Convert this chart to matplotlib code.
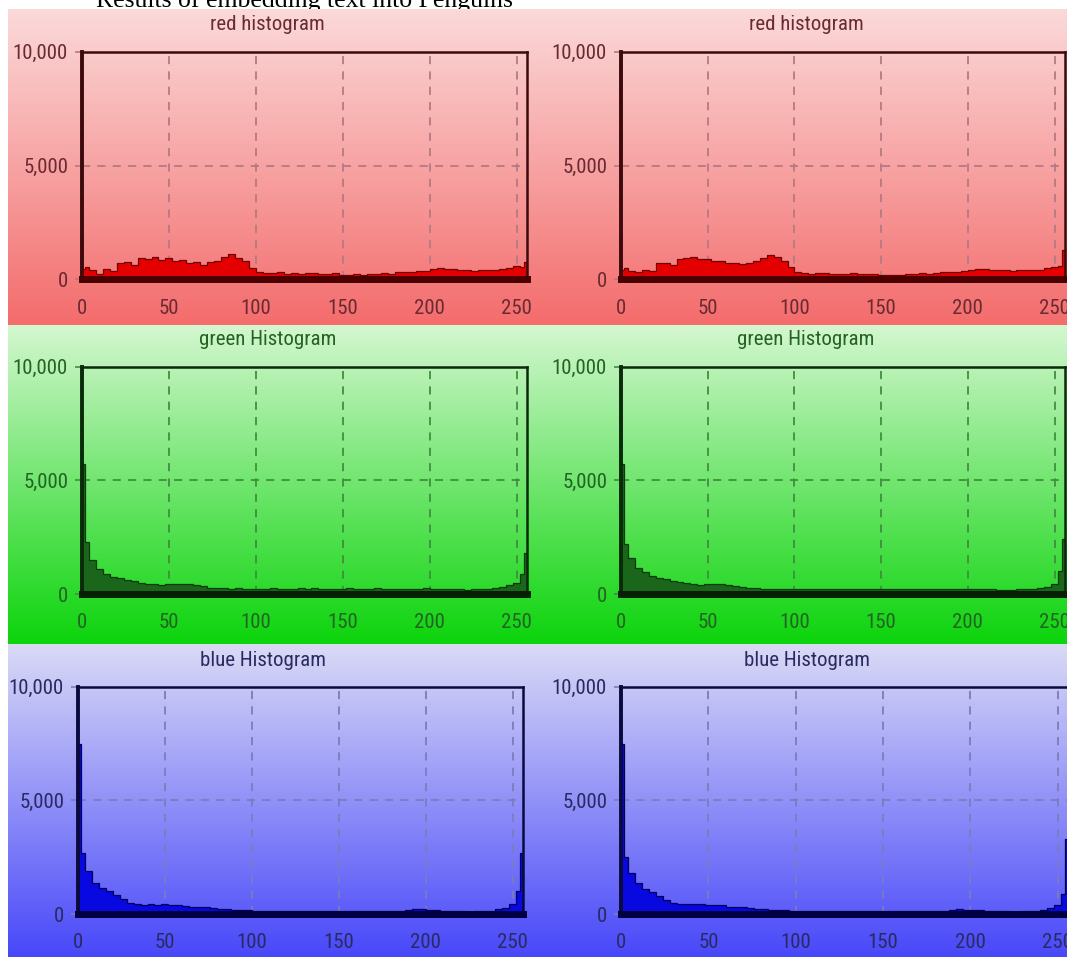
import numpy as np
import matplotlib
matplotlib.use("Agg")
import matplotlib.pyplot as plt
from matplotlib import font_manager as fm

# ---------------- data ----------------
# intensity-level bin edges (narrow bins at both ends)
bin_edges = [0, 2] + list(range(4, 253, 4)) + [254, 256]

red_left = [450, 550,
            400, 250, 450, 350, 700, 750, 650, 950, 900, 1000,
            850, 950, 800, 850, 700, 750, 650, 750, 800, 1000,
            1100, 950, 800, 500, 300, 280, 260, 300, 250, 270,
            240, 260, 280, 250, 230, 260, 200, 180, 220, 200,
            250, 230, 260, 250, 300, 320, 310, 350, 380, 450,
            480, 460, 450, 420, 400, 380, 400, 390, 420, 450,
            500, 600,
            550, 750]
red_right = [400, 500,
             380, 300, 420, 380, 720, 700, 650, 900, 950, 980,
             880, 900, 820, 800, 720, 700, 680, 720, 820, 950,
             1050, 980, 820, 550, 320, 270, 250, 280, 260, 250,
             230, 250, 260, 240, 220, 250, 200, 190, 210, 200,
             240, 250, 260, 240, 280, 300, 320, 330, 370, 430,
             460, 450, 430, 410, 390, 380, 390, 400, 410, 430,
             480, 550,
             600, 1300]
green_left = [5700, 2300,
              1500, 1100, 900, 750, 700, 620, 560, 500, 450, 420,
              400, 430, 440, 430, 420, 380, 330, 280, 260, 250,
              240, 250, 230, 240, 220, 230, 250, 240, 220, 230,
              260, 240, 250, 230, 220, 200, 230, 250, 240, 220,
              230, 250, 240, 220, 210, 230, 220, 240, 250, 230,
              220, 210, 230, 200, 190, 200, 210, 220, 250, 300,
              380, 500,
              900, 1800]
green_right = [5700, 2200,
               1600, 1150, 950, 800, 700, 640, 580, 520, 470, 430,
               410, 420, 430, 420, 400, 360, 320, 280, 260, 240,
               230, 240, 230, 220, 230, 220, 240, 230, 220, 210,
               230, 220, 240, 220, 210, 200, 220, 230, 220, 210,
               220, 230, 220, 210, 200, 220, 210, 220, 230, 220,
               210, 200, 210, 190, 180, 190, 200, 210, 230, 260,
               320, 450,
               1000, 2400]
blue_left = [7500, 2700,
             1900, 1350, 1150, 1000, 850, 650, 480, 420, 410, 420,
             410, 420, 410, 400, 330, 320, 300, 290, 260, 230,
             200, 180, 170, 160, 150, 140, 150, 140, 130, 140,
             130, 140, 130, 120, 130, 140, 130, 120, 130, 140,
             130, 140, 130, 150, 140, 150, 170, 220, 200, 180,
             170, 150, 140, 120, 110, 100, 110, 120, 150, 200,
             280, 450,
             1000, 2700]
blue_right = [7500, 2500,
              1800, 1350, 1100, 950, 800, 620, 470, 420, 420, 430,
              420, 410, 400, 380, 320, 310, 300, 280, 240, 210,
              190, 170, 160, 150, 150, 140, 140, 130, 130, 140,
              130, 130, 120, 130, 130, 140, 130, 120, 130, 130,
              130, 140, 130, 140, 140, 150, 160, 200, 190, 170,
              160, 150, 130, 120, 110, 100, 110, 120, 140, 180,
              250, 400,
              900, 3300]

titles = ["red histogram", "green Histogram", "blue Histogram"]
x_ticks = [0, 50, 100, 150, 200, 250]
x_tick_labels = ["0", "50", "100", "150", "200", "250"]
y_ticks = [0, 5000, 10000]
y_tick_labels = ["0", "5,000", "10,000"]
caption = "Results of embedding text into Penguins"

# ---------------- font choice (narrow face if one is installed) ----------------
names = {f.name for f in fm.fontManager.ttflist}
cond = [f for f in fm.fontManager.ttflist
        if f.name == "DejaVu Sans" and str(f.stretch) in ("condensed", "semi-condensed", "500")
        and f.weight in (400, "normal", "regular")]
font_kw = None
for nm in ["Liberation Sans Narrow", "Arial Narrow", "Roboto Condensed",
           "Open Sans Condensed", "Noto Sans Condensed"]:
    if nm in names:
        font_kw = dict(family=nm, size=15)
        break
if font_kw is None and any(str(f.stretch) == "condensed" for f in cond):
    font_kw = dict(family="DejaVu Sans", stretch="condensed", size=13.5)
if font_kw is None:
    font_kw = dict(family="Liberation Sans", size=13)

def fprop(scale=1.0):
    kw = dict(font_kw)
    kw["size"] = kw["size"] * scale
    return fm.FontProperties(**kw)

# ---------------- style ----------------
W, H = 1067, 957
fig = plt.figure(figsize=(W / 100, H / 100), dpi=100)
fig.patch.set_facecolor("white")

rows = [
    dict(bg=(9, 325), top=51.7, bot=279.3, title_y=25,
         grad=((251, 218, 218), (244, 108, 108)),
         fill="#e40000", edge="#6e0000", spine="#3c0a0c", base="#4a0000",
         grid="#b47a82", text="#6a2a32"),
    dict(bg=(325, 644), top=366.7, bot=594.0, title_y=340,
         grad=((212, 247, 208), (12, 212, 12)),
         fill="#1a661a", edge="#0a3a0a", spine="#0a2a0a", base="#062006",
         grid="#3f8f3f", text="#236323"),
    dict(bg=(644, 957), top=686.7, bot=914.0, title_y=660,
         grad=((218, 218, 246), (72, 72, 250)),
         fill="#0808e0", edge="#00005a", spine="#0a0a3e", base="#000040",
         grid="#7c7cbc", text="#2a2a62"),
]
cols_x = [[(82, 527), (621, 1065)],
          [(82, 527), (621, 1065)],
          [(78, 523), (621, 1068)]]
series = [[red_left, red_right], [green_left, green_right], [blue_left, blue_right]]


def rect(l, t, r, b):
    return [l / W, 1 - b / H, (r - l) / W, (b - t) / H]


# caption (partially cut off at top, like the reference)
fig.text(96 / W, 1 - 7 / H, caption, family=["Liberation Serif", "DejaVu Serif"],
         fontsize=18.5, ha="left", va="baseline", color="black", zorder=-5)

for ri, row in enumerate(rows):
    t0, b0 = row["bg"]
    bg = fig.add_axes(rect(8, t0, W, b0), zorder=0)
    c1 = np.array(row["grad"][0]) / 255.0
    c2 = np.array(row["grad"][1]) / 255.0
    s = np.linspace(0, 1, 256)[:, None, None]
    grad = c1[None, None, :] * (1 - s) + c2[None, None, :] * s
    bg.imshow(grad, aspect="auto", extent=[0, 1, 0, 1], interpolation="bilinear")
    bg.set_axis_off()

    for ci in range(2):
        l, r = cols_x[ri][ci]
        ax = fig.add_axes(rect(l, row["top"], r, row["bot"]), zorder=2)
        ax.set_facecolor("none")
        vals = series[ri][ci]
        ax.stairs(vals, bin_edges, fill=True, color=row["fill"], zorder=2)
        ax.stairs(vals, bin_edges, color=row["edge"], lw=0.9, zorder=2.5)
        ax.set_xlim(0, 256)
        ax.set_ylim(0, 10000)
        ax.set_xticks(x_ticks)
        ax.set_xticklabels(x_tick_labels)
        ax.set_yticks(y_ticks)
        ax.set_yticklabels(y_tick_labels)
        ax.set_axisbelow(True)
        ax.grid(True, color=row["grid"], lw=1.3, linestyle=(0, (4.5, 4)))
        for side in ["top", "right"]:
            ax.spines[side].set_color(row["spine"])
            ax.spines[side].set_linewidth(1.8)
        ax.spines["left"].set_color(row["spine"])
        ax.spines["left"].set_linewidth(2.8)
        ax.spines["bottom"].set_color(row["base"])
        ax.spines["bottom"].set_linewidth(5)
        for sp in ax.spines.values():
            sp.set_zorder(3)
        ax.tick_params(axis="y", length=5, width=1.2, color=row["grid"], pad=5,
                       labelcolor=row["text"])
        ax.tick_params(axis="x", length=3, width=1.2, color=row["grid"], pad=11,
                       labelcolor=row["text"])
        for lab in ax.get_xticklabels() + ax.get_yticklabels():
            lab.set_fontproperties(fprop())
        cx = (l + r) / 2 - 37
        fig.text(cx / W, 1 - row["title_y"] / H, titles[ri], fontproperties=fprop(1.0),
                 ha="center", va="center", color=row["text"], zorder=5)

fig.savefig("out.png", dpi=100)
